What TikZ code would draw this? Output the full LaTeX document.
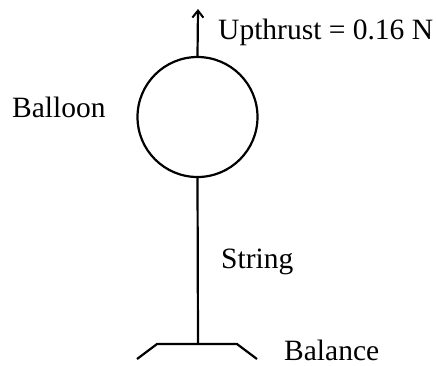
\documentclass[tikz,border=0pt]{standalone}
\usepackage{fontspec}
\setmainfont{Liberation Serif}
\usetikzlibrary{arrows.meta}
\begin{document}
\begin{tikzpicture}[x=1pt,y=-1pt,
  lbl/.style={anchor=base west,inner sep=0pt,font=\fontsize{29.5}{33}\selectfont},
  ln/.style={line width=2.2pt,line join=miter}]
\useasboundingbox (0,0) rectangle (436,365);
\node[circle,draw,line width=2.2pt,minimum size=120pt,inner sep=0pt] (balloon) at (197.5,117) {};
\coordinate (tip) at (198,9);
\coordinate (bc) at (198,344);
\coordinate (bl) at (157,344);
\coordinate (br) at (237,344);
\coordinate (blo) at (137,359);
\coordinate (bro) at (257,359);
\draw[ln,-{Straight Barb[length=7pt,width=11pt,line width=2pt]}] (balloon.north) -- (tip);
\draw[ln] (balloon.south) -- (bc);
\draw[ln] (blo) -- (bl) -- (br) -- (bro);
\node[lbl] (up) at (218,39) {Upthrust = 0.16 N};
\node[lbl] (bal) at (12,117) {Balloon};
\node[lbl] (str) at (221,268) {String};
\node[lbl] (bln) at (284,360) {Balance};
\end{tikzpicture}
\end{document}
